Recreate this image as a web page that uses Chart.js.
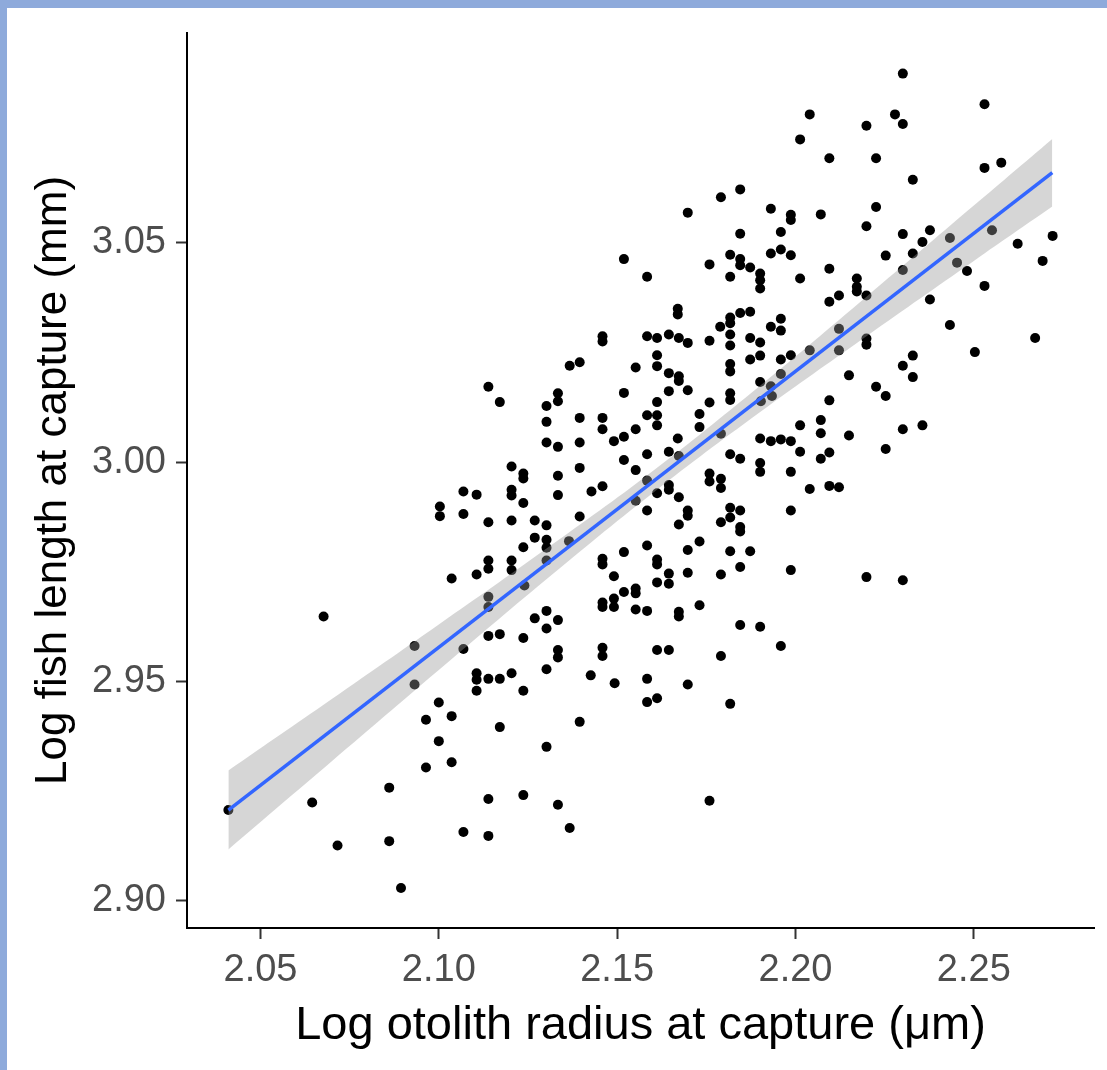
<!DOCTYPE html>
<html>
<head>
<meta charset="utf-8">
<script src="https://cdn.jsdelivr.net/npm/chart.js@4.4.1/dist/chart.umd.min.js"></script>
<style>
  html, body { margin: 0; padding: 0; background: #ffffff; }
  #wrap { position: relative; width: 1107px; height: 1070px; overflow: hidden; background: #ffffff; }
  #c { position: absolute; left: 0; top: 0; }
  .bl { position: absolute; left: 0; top: 0; width: 7px; height: 1070px; background: #8EAADB; }
  .bt { position: absolute; left: 0; top: 0; width: 1107px; height: 8px; background: #8EAADB; }
</style>
</head>
<body>
<div id="wrap">
  <canvas id="c" width="1107" height="1070"></canvas>
  <div class="bl"></div>
  <div class="bt"></div>
</div>
<script>
// ---- data ----
const xTicks = [2.05, 2.10, 2.15, 2.20, 2.25];
const yTicks = [2.90, 2.95, 3.00, 3.05];
const xTitle = 'Log otolith radius at capture (μm)';
const yTitle = 'Log fish length at capture (mm)';

const logOtolithRadius = [
  2.0677,2.0932,2.0932,2.1000,2.0964,2.1000,2.0964,2.0861,2.0410,2.0645,2.0716,2.0861,2.0894,
  2.1139,2.1171,2.1237,2.1302,2.1069,2.1334,2.1334,2.1459,2.1459,2.1106,2.1106,2.1139,2.1171,2.1204,2.1302,2.1426,2.1493,2.1106,2.1237,2.1036,2.1171,2.1395,2.1302,2.1036,2.1139,2.1237,2.1334,2.1367,2.1069,2.1139,
  2.1367,2.1395,2.1139,2.1171,2.1334,2.1334,2.1302,2.1302,2.1395,2.1459,2.1459,2.1302,2.1334,2.1395,2.1491,2.1204,2.1237,2.1237,2.1334,2.1395,
  2.1069,2.1106,2.1204,2.1204,2.1237,2.1334,2.1428,2.1459,2.1003,2.1003,2.1069,2.1139,2.1204,2.1269,2.1302,2.1395,2.1269,2.1302,2.1237,2.1302,
  2.1365,2.1139,2.1139,2.1204,2.1204,2.1302,2.1106,2.1036,2.1240,2.1139,2.1139,2.1459,2.1459,2.1491,2.1459,2.1459,2.1491,2.1491,2.1269,2.1302,2.1334,
  2.1459,2.1459,2.2040,2.2013,
  2.1845,2.1791,2.1698,2.1931,2.1987,2.1987,2.1845,2.1959,2.1931,2.1959,2.1987,2.1817,2.1845,2.1845,2.1873,2.1759,2.1519,2.1584,2.1817,2.1901,
  2.1901,2.1901,2.2013,2.1670,2.1670,2.1845,2.1873,2.1817,2.1817,2.1789,2.1817,2.1817,2.1959,2.1931,2.1959,2.1584,2.1612,2.1645,2.1673,2.1698,
  2.1759,2.1873,2.1901,2.1612,2.1552,2.1612,2.1645,2.1673,2.1673,2.1817,2.1817,2.1873,2.1901,2.1959,2.1987,2.2040,2.1959,2.1901,2.1931,
  2.1645,2.1698,2.1817,2.1817,2.1612,2.1759,2.1519,2.1903,2.1934,2.1584,2.1612,2.1612,2.1731,2.1731,2.1552,2.1519,2.1670,2.1791,2.1901,2.1931,
  2.1959,2.1987,2.2013,2.1519,2.1584,2.1645,2.1673,2.1817,2.1845,2.1901,2.1901,2.1987,2.2013,2.1552,2.1584,2.1645,2.1645,2.1612,2.1673,2.1552,
  2.1759,2.1759,2.1791,2.1791,2.2040,2.1584,2.1698,2.1698,2.1673,2.1817,2.1845,2.1817,2.1791,2.1845,2.1845,2.1987,2.1519,2.1584,2.1612,2.1612,
  2.1698,2.1731,2.1817,2.1873,2.1845,2.1791,2.1698,2.1645,2.1645,2.1612,2.1987,2.1519,2.1552,2.1552,2.1552,2.1584,2.1673,2.1673,2.1731,
  2.1845,2.1901,2.1959,2.1612,2.1645,2.1791,2.1584,2.1698,2.1584,2.1612,2.1817,2.1759,
  2.2301,2.2530,2.2279,2.2301,2.2199,2.2095,2.2226,2.2329,2.2530,2.2577,2.2071,2.2226,2.2199,2.2301,2.2377,2.2356,2.2433,2.2551,2.2623,2.2721,
  2.2693,2.2253,2.2329,2.2301,2.2453,2.2481,2.2530,2.2095,2.2172,2.2172,2.2172,2.2122,2.2095,2.2199,2.2377,
  2.2433,2.2672,2.2503,2.2122,2.2199,2.2199,2.2122,2.2329,2.2301,2.2329,2.2150,2.2226,2.2253,2.2095,2.2071,2.2071,2.2150,2.2301,2.2356,2.2253,
  2.2095,2.2071,2.2095,2.2122,2.2199,2.2301
];
const logFishLength = [
  2.9648,2.9581,2.9493,2.9452,2.9413,2.9364,2.9304,2.9258,2.9207,2.9224,2.9126,2.9136,2.9029,
  2.9604,2.9608,2.9599,2.9621,2.9574,2.9572,2.9555,2.9577,2.9558,2.9519,2.9504,2.9506,2.9506,2.9519,2.9528,2.9514,2.9496,2.9479,2.9479,2.9421,2.9396,2.9408,2.9351,2.9316,2.9232,2.9241,2.9219,2.9166,2.9157,2.9148,
  3.0220,3.0228,3.0172,3.0137,3.0157,3.0139,3.0128,3.0092,3.0101,3.0101,3.0075,3.0045,3.0035,3.0045,3.0048,2.9990,2.9974,2.9963,2.9969,2.9987,
  2.9933,2.9926,2.9937,2.9924,2.9907,2.9925,2.9933,2.9945,2.9899,2.9877,2.9882,2.9863,2.9867,2.9867,2.9856,2.9876,2.9828,2.9823,2.9806,2.9805,
  2.9820,2.9776,2.9757,2.9776,2.9754,2.9776,2.9744,2.9735,2.9719,2.9693,2.9670,2.9780,2.9767,2.9740,2.9680,2.9670,2.9689,2.9670,2.9644,2.9661,2.9640,
  3.0287,3.0275,3.0793,3.0736,
  3.0622,3.0604,3.0569,3.0578,3.0564,3.0552,3.0521,3.0525,3.0476,3.0485,3.0472,3.0473,3.0463,3.0449,3.0444,3.0451,3.0463,3.0423,3.0423,3.0430,
  3.0415,3.0396,3.0419,3.0350,3.0337,3.0340,3.0343,3.0330,3.0317,3.0309,3.0291,3.0266,3.0327,3.0309,3.0300,3.0287,3.0283,3.0291,3.0283,3.0272,
  3.0277,3.0283,3.0273,3.0244,3.0216,3.0219,3.0203,3.0196,3.0185,3.0224,3.0207,3.0234,3.0243,3.0234,3.0244,3.0255,3.0201,3.0183,3.0173,
  3.0162,3.0164,3.0157,3.0142,3.0137,3.0136,3.0158,3.0139,3.0151,3.0107,3.0107,3.0084,3.0110,3.0080,3.0075,3.0058,3.0054,3.0065,3.0054,3.0048,
  3.0052,3.0048,3.0084,3.0005,3.0018,3.0024,3.0014,3.0018,3.0008,2.9998,2.9978,2.9978,3.0024,2.9982,2.9958,2.9948,2.9937,2.9929,2.9920,2.9912,
  2.9974,2.9956,2.9962,2.9941,2.9939,2.9890,2.9890,2.9878,2.9858,2.9896,2.9890,2.9874,2.9863,2.9852,2.9842,2.9890,2.9795,2.9810,2.9778,2.9767,
  2.9800,2.9819,2.9797,2.9797,2.9761,2.9744,2.9748,2.9746,2.9723,2.9726,2.9754,2.9704,2.9712,2.9701,2.9664,2.9661,2.9659,2.9648,2.9674,
  2.9629,2.9625,2.9581,2.9572,2.9572,2.9558,2.9506,2.9493,2.9453,2.9462,2.9449,2.9228,
  3.0886,3.0816,3.0793,3.0771,3.0767,3.0693,3.0693,3.0644,3.0671,3.0683,3.0565,3.0582,3.0538,3.0520,3.0529,3.0502,3.0511,3.0529,3.0498,3.0516,
  3.0459,3.0471,3.0476,3.0438,3.0455,3.0436,3.0402,3.0441,3.0419,3.0400,3.0389,3.0380,3.0366,3.0380,3.0371,
  3.0313,3.0283,3.0251,3.0304,3.0282,3.0268,3.0255,3.0243,3.0220,3.0194,3.0198,3.0172,3.0151,3.0141,3.0096,3.0066,3.0061,3.0075,3.0084,3.0030,
  3.0022,3.0008,2.9946,2.9943,2.9738,2.9731
];

// fitted line and its confidence band
const fitX = [2.041, 2.272];
const fitY = [2.9207, 3.0660];
const bandX     = [2.041, 2.070, 2.100, 2.130, 2.160, 2.190, 2.220, 2.250, 2.272];
const bandLower = [2.9117, 2.9318, 2.9526, 2.9732, 2.9930, 3.0114, 3.0288, 3.0459, 3.0583];
const bandUpper = [2.9297, 2.9460, 2.9630, 2.9802, 2.9980, 3.0174, 3.0378, 3.0585, 3.0737];

const xRange = [2.0294, 2.2837];
const yRange = [2.8938, 3.0979];

// ---- chart ----
const FONT = "'Liberation Sans', Arial, sans-serif";
const pts = logOtolithRadius.map((x, i) => ({ x: x, y: logFishLength[i] }));
const lower = bandX.map((x, i) => ({ x: x, y: bandLower[i] }));
const upper = bandX.map((x, i) => ({ x: x, y: bandUpper[i] }));
const fit = fitX.map((x, i) => ({ x: x, y: fitY[i] }));

new Chart(document.getElementById('c'), {
  type: 'scatter',
  data: {
    datasets: [
      { data: pts, order: 3, pointRadius: 5, pointHoverRadius: 5, backgroundColor: '#000000', borderWidth: 0, showLine: false },
      { data: lower, order: 2, showLine: true, pointRadius: 0, borderWidth: 0, borderColor: 'rgba(0,0,0,0)', tension: 0.4, fill: false },
      { data: upper, order: 2, showLine: true, pointRadius: 0, borderWidth: 0, borderColor: 'rgba(0,0,0,0)', tension: 0.4, fill: '-1', backgroundColor: 'rgba(153,153,153,0.4)' },
      { data: fit, order: 1, showLine: true, pointRadius: 0, borderWidth: 3.5, borderColor: '#3366FF', fill: false }
    ]
  },
  options: {
    responsive: false,
    animation: false,
    devicePixelRatio: 1,
    layout: { padding: { left: 7, top: 30, right: 13, bottom: 0 } },
    plugins: { legend: { display: false }, tooltip: { enabled: false } },
    scales: {
      x: {
        type: 'linear', min: xRange[0], max: xRange[1],
        afterBuildTicks: s => { s.ticks = xTicks.map(v => ({ value: v })); },
        afterFit: s => { s.height = 142; },
        ticks: { callback: v => Number(v).toFixed(2), font: { family: FONT, size: 38 }, color: '#4D4D4D', padding: 9, maxRotation: 0 },
        grid: { drawOnChartArea: false, drawTicks: true, tickLength: 11, tickWidth: 2, tickColor: '#333333' },
        border: { display: true, color: '#000000', width: 2 },
        title: { display: true, text: xTitle, color: '#000000', font: { family: FONT, size: 47, lineHeight: 1.2 }, padding: { top: 0, bottom: 16 } }
      },
      y: {
        type: 'linear', min: yRange[0], max: yRange[1],
        afterBuildTicks: s => { s.ticks = yTicks.map(v => ({ value: v })); },
        afterFit: s => { s.width = 180; },
        ticks: { callback: v => Number(v).toFixed(2), font: { family: FONT, size: 38 }, color: '#4D4D4D', padding: 10 },
        grid: { drawOnChartArea: false, drawTicks: true, tickLength: 11, tickWidth: 2, tickColor: '#333333' },
        border: { display: true, color: '#000000', width: 2 },
        title: { display: true, text: yTitle, color: '#000000', font: { family: FONT, size: 44, lineHeight: 1.2 }, padding: { top: 20, bottom: 0 } }
      }
    }
  }
});
</script>
</body>
</html>
